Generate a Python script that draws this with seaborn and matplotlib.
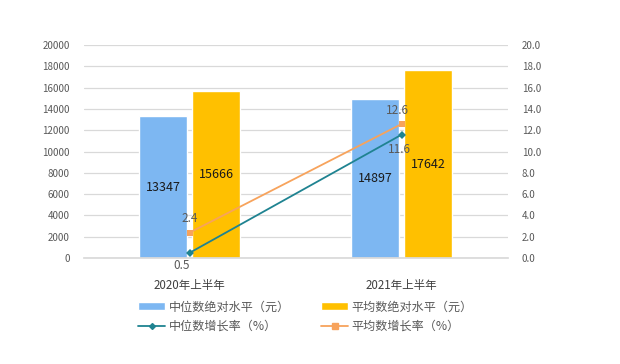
import matplotlib
matplotlib.use("Agg")
import matplotlib.pyplot as plt
import seaborn as sns
import pandas as pd
from matplotlib.patches import Patch
from matplotlib.lines import Line2D

categories = ["2020年上半年", "2021年上半年"]
median_abs = [13347, 14897]
mean_abs = [15666, 17642]
median_growth = [0.5, 11.6]
mean_growth = [2.4, 12.6]
bar_series = ["中位数绝对水平（元）", "平均数绝对水平（元）"]
line_series = ["中位数增长率（%）", "平均数增长率（%）"]

sns.set_theme(style="white")
plt.rcParams['font.family'] = ['Noto Sans CJK SC', 'DejaVu Sans']

blue = "#7DB7F2"
yellow = "#FFC000"
teal = "#1F8391"
orange = "#F7A35C"

bars = pd.DataFrame({
    "cat": categories * 2,
    "series": [bar_series[0]] * 2 + [bar_series[1]] * 2,
    "value": median_abs + mean_abs,
})

fig = plt.figure(figsize=(6.2, 3.64), dpi=100)
ax = fig.add_axes([0.135, 0.291, 0.684, 0.585])
sns.barplot(data=bars, x="cat", y="value", hue="series", palette=[blue, yellow],
            width=0.5, gap=0.1, ax=ax, legend=False, saturation=1)
ax.set_ylim(0, 20000)
ax.set_xlim(-0.5, 1.5)
ax.set_yticks(range(0, 20001, 2000))
ax.yaxis.grid(True, color="#D9D9D9", linewidth=0.9)
ax.set_axisbelow(True)
for s in ax.spines.values():
    s.set_visible(False)
ax.spines['bottom'].set_visible(True)
ax.spines['bottom'].set_color("#D9D9D9")
ax.set_xlabel("")
ax.set_ylabel("")
ax.tick_params(axis='y', labelsize=7, colors="#595959", length=0, pad=10)
ax.tick_params(axis='x', labelsize=8.3, colors="#404040", length=0, pad=15)
for cont in ax.containers:
    ax.bar_label(cont, label_type="center", fontsize=9, color="#1a1a1a")

ax2 = ax.twinx()
xpos = [0, 1]
sns.lineplot(x=xpos, y=median_growth, ax=ax2, color=teal, marker="D", markersize=4,
             markeredgewidth=0, linewidth=1.3)
sns.lineplot(x=xpos, y=mean_growth, ax=ax2, color=orange, marker="s", markersize=5,
             markeredgewidth=0, linewidth=1.3)
ax2.set_ylim(0, 20)
ax2.set_xlim(-0.5, 1.5)
ax2.set_yticks(range(0, 21, 2))
ax2.set_yticklabels([f"{v:.1f}" for v in range(0, 21, 2)])
ax2.tick_params(axis='y', labelsize=7, colors="#595959", length=0, pad=10)
for s in ax2.spines.values():
    s.set_visible(False)
ax2.set_ylabel("")

lbl = dict(fontsize=8.5, color="#595959", ha="center")
ax2.annotate(f"{median_growth[0]}", (0, median_growth[0]), xytext=(-6, -9),
             textcoords="offset points", va="center", **lbl)
ax2.annotate(f"{mean_growth[0]}", (0, mean_growth[0]), xytext=(0, 10),
             textcoords="offset points", va="center", **lbl)
ax2.annotate(f"{median_growth[1]}", (1, median_growth[1]), xytext=(-2, -11),
             textcoords="offset points", va="center", **lbl)
ax2.annotate(f"{mean_growth[1]}", (1, mean_growth[1]), xytext=(-3, 10),
             textcoords="offset points", va="center", **lbl)

handles = [
    Patch(facecolor=blue, label=bar_series[0]),
    Patch(facecolor=yellow, label=bar_series[1]),
    Line2D([0], [0], color=teal, marker="D", markersize=3, linewidth=1.3, label=line_series[0]),
    Line2D([0], [0], color=orange, marker="s", markersize=4, linewidth=1.3, label=line_series[1]),
]
fig.legend(handles=[handles[0], handles[2], handles[1], handles[3]], ncol=2,
           loc="center", bbox_to_anchor=(0.493, 0.13), frameon=False,
           fontsize=8.7, labelcolor="#595959", handlelength=2.2, handleheight=0.6,
           columnspacing=2.6, labelspacing=0.55, handletextpad=0.3)

fig.savefig("out.png", dpi=100, facecolor="white")
